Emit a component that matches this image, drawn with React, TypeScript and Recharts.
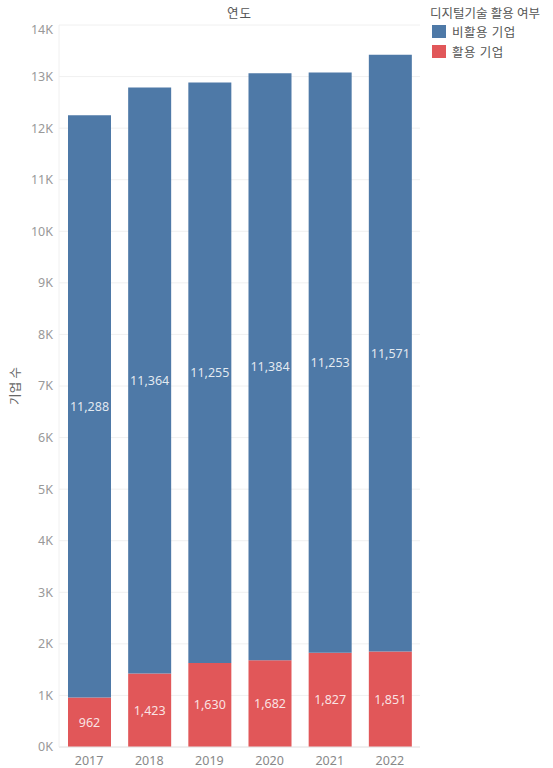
import { BarChart, Bar, XAxis, YAxis, CartesianGrid, LabelList, Label } from "recharts"

const years = ["2017", "2018", "2019", "2020", "2021", "2022"]
const nonUsers = [11288, 11364, 11255, 11384, 11253, 11571]
const users = [962, 1423, 1630, 1682, 1827, 1851]
const yTicks = [0, 1000, 2000, 3000, 4000, 5000, 6000, 7000, 8000, 9000, 10000, 11000, 12000, 13000, 14000]

const BLUE = "#4e79a7"
const RED = "#e15759"
const FONT = "'Noto Sans', 'Noto Sans CJK KR', sans-serif"

const data = years.map((year, i) => ({ year, nonUser: nonUsers[i], user: users[i] }))

const fmt = (v: number) => v.toLocaleString("en-US")

// tableau pushes the top tick label down so it stays inside the pane
function YTick(props: any) {
  const { x, y, payload } = props
  const shift = payload.value === 14000 ? 5 : 0
  return (
    <text
      x={x}
      y={y + shift}
      dy="0.355em"
      textAnchor="end"
      fontSize={12.5}
      fill="#999"
      fontFamily={FONT}
    >
      {`${payload.value / 1000}K`}
    </text>
  )
}

function LegendBox() {
  const items = [
    { name: "비활용 기업", color: BLUE },
    { name: "활용 기업", color: RED },
  ]
  return (
    <div
      style={{
        position: "absolute",
        left: 430,
        top: 3,
        fontFamily: FONT,
        fontSize: 12.5,
        color: "#555",
      }}
    >
      <div style={{ height: 18, whiteSpace: "nowrap" }}>디지털기술 활용 여부</div>
      {items.map(it => (
        <div key={it.name} style={{ display: "flex", alignItems: "center", height: 20, marginLeft: 2 }}>
          <span style={{ width: 14, height: 13, background: it.color, display: "inline-block", marginRight: 6 }} />
          <span style={{ letterSpacing: 0.5 }}>{it.name}</span>
        </div>
      ))}
    </div>
  )
}

export default function App() {
  return (
    <div style={{ position: "absolute", left: 0, top: 0, width: 553, height: 768, background: "#fff" }}>
      <div
        style={{
          position: "absolute",
          left: 59,
          width: 361,
          top: 3,
          textAlign: "center",
          fontFamily: FONT,
          fontSize: 12.5,
          color: "#555",
          letterSpacing: 1,
        }}
      >
        연도
      </div>
      <LegendBox />
      <BarChart
        width={553}
        height={768}
        data={data}
        margin={{ top: 25, right: 133, left: 0, bottom: 0 }}
        barSize={43}
      >
        <CartesianGrid vertical={false} stroke="#f0f0f0" />
        <XAxis
          dataKey="year"
          height={21}
          tickLine={false}
          axisLine={{ stroke: "#e6e6e6" }}
          tick={{ fontSize: 12.5, fill: "#888", fontFamily: FONT }}
          tickMargin={3}
        />
        <YAxis
          width={59}
          domain={[0, 14000]}
          ticks={yTicks}
          interval={0}
          tickLine={false}
          axisLine={{ stroke: "#f0f0f0" }}
          tick={<YTick />}
          tickMargin={0}
        >
          <Label
            value="기업 수"
            angle={-90}
            position="insideLeft"
            offset={16}
            style={{ fontSize: 12.5, fill: "#666", fontFamily: FONT, textAnchor: "middle" }}
          />
        </YAxis>
        <Bar dataKey="user" stackId="a" fill={RED} isAnimationActive={false}>
          <LabelList
            dataKey="user"
            position="center"
            formatter={(v: number) => fmt(v)}
            style={{ fill: "#ffffff", fillOpacity: 0.85, fontSize: 12.5, fontFamily: FONT }}
          />
        </Bar>
        <Bar dataKey="nonUser" stackId="a" fill={BLUE} isAnimationActive={false}>
          <LabelList
            dataKey="nonUser"
            position="center"
            formatter={(v: number) => fmt(v)}
            style={{ fill: "#ffffff", fillOpacity: 0.85, fontSize: 12.5, fontFamily: FONT }}
          />
        </Bar>
      </BarChart>
    </div>
  )
}
